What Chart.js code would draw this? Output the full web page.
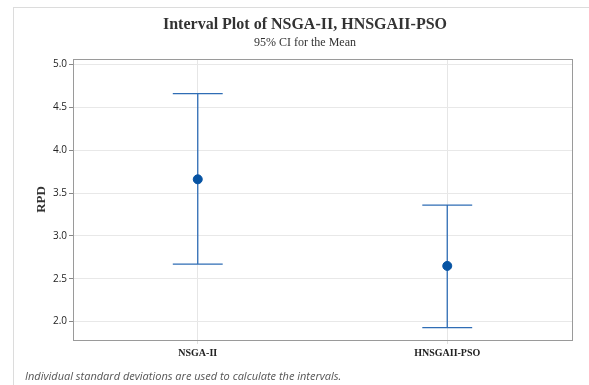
<!DOCTYPE html>
<html>
<head>
<meta charset="utf-8">
<script src="https://cdn.jsdelivr.net/npm/chart.js@4/dist/chart.umd.min.js"></script>
<style>
  html, body { margin: 0; padding: 0; background: #fff; }
  #wrap { position: relative; width: 589px; height: 385px; overflow: hidden; }
  #frame { position: absolute; left: 13px; top: 7px; width: 600px; height: 400px;
           border-left: 1px solid #dcdcdc; border-top: 1px solid #dcdcdc; }
  #cv { position: absolute; left: 0; top: 0; }
  .t { position: absolute; white-space: nowrap; transform: translateX(-50%); }
  #title { left: 305px; top: 15px; font: bold 16px "Liberation Serif", serif; color: #333; }
  #sub { left: 305px; top: 35px; font: 12px "Liberation Serif", serif; color: #333; }
  #note { position: absolute; left: 25px; top: 368px; font: italic 11px "Open Sans", sans-serif; color: #555; }
</style>
</head>
<body>
<div id="wrap">
  <div id="frame"></div>
  <canvas id="cv" width="589" height="385"></canvas>
  <div class="t" id="title">Interval Plot of NSGA-II, HNSGAII-PSO</div>
  <div class="t" id="sub">95% CI for the Mean</div>
  <div id="note">Individual standard deviations are used to calculate the intervals.</div>
</div>
<script>
// Groups and their 95% confidence intervals for the mean RPD
const categories = ['NSGA-II', 'HNSGAII-PSO'];
const means = [3.66, 2.65];
const lowerCI = [2.67, 1.93];
const upperCI = [4.66, 3.36];
const yTickValues = [2.0, 2.5, 3.0, 3.5, 4.0, 4.5, 5.0];

const blue = '#2f6db5';
const capHalf = 0.1; // half-width of the interval caps, in category units

// One line dataset per group: top cap, whisker, bottom cap (gaps break the path)
const intervalSets = categories.map((c, i) => {
  const x = i + 1;
  return {
    type: 'line',
    label: c + ' CI',
    data: [
      { x: x - capHalf, y: upperCI[i] }, { x: x + capHalf, y: upperCI[i] },
      { x: x, y: null },
      { x: x, y: upperCI[i] }, { x: x, y: lowerCI[i] },
      { x: x, y: null },
      { x: x - capHalf, y: lowerCI[i] }, { x: x + capHalf, y: lowerCI[i] }
    ],
    borderColor: blue,
    borderWidth: 1.3,
    pointRadius: 0,
    spanGaps: false,
    fill: false,
    order: 2
  };
});

const meanSet = {
  type: 'scatter',
  label: 'Mean',
  data: means.map((m, i) => ({ x: i + 1, y: m })),
  backgroundColor: '#0653a3',
  borderColor: '#0653a3',
  pointRadius: 4.5,
  order: 1
};

// Outline around the whole plotting area
const plotBorder = {
  id: 'plotBorder',
  afterDatasetsDraw(chart) {
    const { ctx, chartArea: a } = chart;
    ctx.save();
    ctx.strokeStyle = '#9a9a9a';
    ctx.lineWidth = 1;
    ctx.strokeRect(Math.round(a.left) + 0.5, Math.round(a.top) + 0.5,
                   Math.round(a.right - a.left), Math.round(a.bottom - a.top));
    ctx.restore();
  }
};

new Chart(document.getElementById('cv'), {
  data: { datasets: [...intervalSets, meanSet] },
  options: {
    responsive: false,
    animation: false,
    events: [],
    layout: { padding: { top: 59, right: 17, bottom: 0, left: 0 } },
    plugins: { legend: { display: false }, tooltip: { enabled: false } },
    scales: {
      x: {
        type: 'linear',
        min: 0.5,
        max: 2.5,
        afterBuildTicks(scale) { scale.ticks = categories.map((c, i) => ({ value: i + 1 })); },
        afterFit(scale) { scale.height = 45; },
        ticks: {
          callback: (v) => categories[v - 1] || '',
          color: '#222',
          font: { family: '"Liberation Serif", serif', size: 10, weight: 'bold' },
          padding: 3,
          maxRotation: 0
        },
        grid: { color: '#e6e6e6', tickColor: '#e0e0e0', tickLength: 4 },
        border: { display: false }
      },
      y: {
        type: 'linear',
        min: 1.786,
        max: 5.063,
        afterBuildTicks(scale) { scale.ticks = yTickValues.map(v => ({ value: v })); },
        afterFit(scale) { scale.width = 73; },
        ticks: {
          callback: (v) => v.toFixed(1),
          color: '#222',
          font: { family: '"Open Sans", sans-serif', size: 10 },
          padding: 2
        },
        grid: { color: '#e8e8e8', tickColor: '#888', tickLength: 4 },
        border: { display: false },
        title: {
          display: true,
          text: 'RPD',
          color: '#333',
          font: { family: '"Liberation Serif", serif', size: 13, weight: 'bold' },
          padding: { top: 34, bottom: 0 }
        }
      }
    }
  },
  plugins: [plotBorder]
});
</script>
</body>
</html>
